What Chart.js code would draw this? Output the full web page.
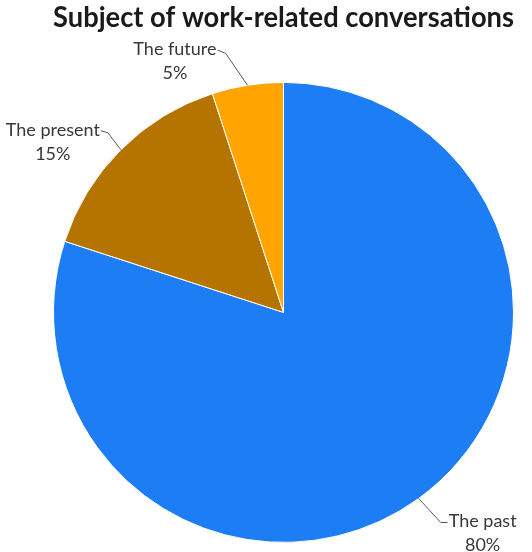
<!DOCTYPE html>
<html>
<head>
<meta charset="utf-8">
<script src="https://cdn.jsdelivr.net/npm/chart.js@4"></script>
<style>
  html, body { margin: 0; padding: 0; background: #fff; }
  #wrap { width: 532px; height: 552px; }
</style>
</head>
<body>
<div id="wrap"><canvas id="pie"></canvas></div>
<script>
// chart data
const chartTitle = 'Subject of work-related conversations';
const categories = ['The past', 'The present', 'The future'];
const shares = [80, 15, 5];
const sliceColors = ['rgb(28,125,245)', 'rgb(181,116,0)', 'rgb(255,164,0)'];

// leader line layout: elbow offset from slice edge, then short tick
const leaderLayout = [
  { elbow: [22, 24], tick: [7, 0], side: 'right' },
  { elbow: [-13, -17], tick: [-7, -2], side: 'left' },
  { elbow: [-22, -32], tick: [-8, -3], side: 'left' }
];

const labelFont = '18px Lato';
const labelColor = '#383838';

// draws the outside labels with leader lines
const outsideLabels = {
  id: 'outsideLabels',
  afterDatasetsDraw(chart) {
    const ctx = chart.ctx;
    const meta = chart.getDatasetMeta(0);
    ctx.save();
    ctx.font = labelFont;
    meta.data.forEach((arc, i) => {
      const p = arc.getProps(['x', 'y', 'startAngle', 'endAngle', 'outerRadius'], true);
      const mid = (p.startAngle + p.endAngle) / 2;
      const ex = p.x + Math.cos(mid) * p.outerRadius;
      const ey = p.y + Math.sin(mid) * p.outerRadius;
      const lay = leaderLayout[i];
      const bx = ex + lay.elbow[0], by = ey + lay.elbow[1];
      const tx = bx + lay.tick[0], ty = by + lay.tick[1];

      ctx.strokeStyle = '#5a5a5a';
      ctx.lineWidth = 1;
      ctx.beginPath();
      ctx.moveTo(ex, ey);
      ctx.lineTo(bx, by);
      ctx.lineTo(tx, ty);
      ctx.stroke();

      const line1 = categories[i];
      const line2 = shares[i] + '%';
      const w = ctx.measureText(line1).width;
      const cx = lay.side === 'left' ? tx - 1 - w / 2 : tx + 1 + w / 2;
      ctx.fillStyle = labelColor;
      ctx.textAlign = 'center';
      ctx.textBaseline = 'middle';
      ctx.fillText(line1, cx, ty - 1);
      ctx.fillText(line2, cx, ty + 23);
    });
    ctx.restore();
  }
};

new Chart(document.getElementById('pie'), {
  type: 'pie',
  data: {
    labels: categories,
    datasets: [{
      data: shares,
      backgroundColor: sliceColors,
      borderColor: '#ffffff',
      borderWidth: 1
    }]
  },
  options: {
    responsive: true,
    maintainAspectRatio: false,
    animation: false,
    layout: {
      padding: { left: 53, right: 18, top: 0, bottom: 9 }
    },
    plugins: {
      legend: { display: false },
      tooltip: { enabled: false },
      title: {
        display: true,
        text: chartTitle,
        color: '#1a1a1a',
        font: { family: 'Lato', size: 29, weight: 'bold' },
        padding: { top: 0, bottom: 47 }
      }
    }
  },
  plugins: [outsideLabels]
});
</script>
</body>
</html>
